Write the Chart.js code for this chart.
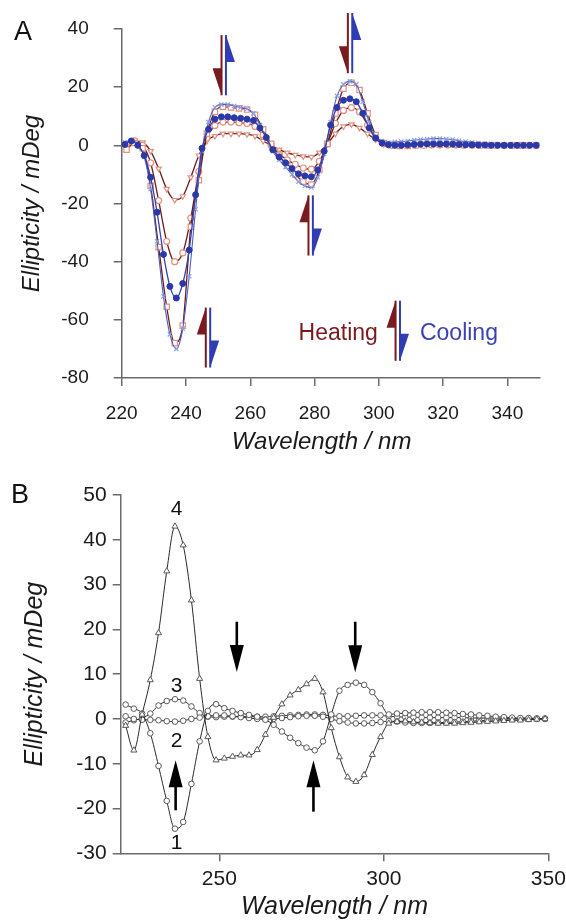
<!DOCTYPE html>
<html>
<head>
<meta charset="utf-8">
<script src="https://cdn.jsdelivr.net/npm/chart.js@4.4.1/dist/chart.umd.min.js"></script>
<style>
  html, body { margin: 0; padding: 0; background: #fff; }
  .panel { position: absolute; left: 0; width: 566px; }
  #wrapA { top: 0; height: 460px; }
  #wrapB { top: 460px; height: 462px; }
</style>
</head>
<body>
<div class="panel" id="wrapA"><canvas id="chartA"></canvas></div>
<div class="panel" id="wrapB"><canvas id="chartB"></canvas></div>
<script>
// wavelength grids (nm)
var wl2 = [221, 223, 225, 227, 229, 231, 233, 235, 237, 239,
  241, 243, 245, 247, 249, 251, 253, 255, 257, 259,
  261, 263, 265, 267, 269, 271, 273, 275, 277, 279,
  281, 283, 285, 287, 289, 291, 293, 295, 297, 299,
  301, 303, 305, 307, 309, 311, 313, 315, 317, 319,
  321, 323, 325, 327, 329, 331, 333, 335, 337, 339,
  341, 343, 345, 347, 349];
var wl25 = [221.5, 224, 226.5, 229, 231.5, 234, 236.5, 239, 241.5, 244,
  246.5, 249, 251.5, 254, 256.5, 259, 261.5, 264, 266.5, 269,
  271.5, 274, 276.5, 279, 281.5, 284, 286.5, 289, 291.5, 294,
  296.5, 299, 301.5, 304, 306.5, 309, 311.5, 314, 316.5, 319,
  321.5, 324, 326.5, 329, 331.5, 334, 336.5, 339, 341.5, 344,
  346.5, 349];

// panel A (mdeg)
var coolDots = [0.3, 1.5, 0.0, -3.5, -11, -23, -37.5, -48.5, -52.5, -47.5,
  -36, -17, -1, 5.5, 9, 9.8, 9.8, 9.5, 9.3, 9,
  8.5, 6, 2.7, -1.5, -4, -6, -8, -9.8, -10.5, -10.8,
  -8.5, -2, 7, 13, 15.5, 16, 15, 11, 6, 2.5,
  0.8, 0.2, 0, 0, 0.2, 0.3, 0.4, 0.5, 0.5, 0.5,
  0.5, 0.4, 0.3, 0.2, 0.2, 0.1, 0.1, 0, 0, 0,
  0, 0, 0, 0, 0];
var coolCross = [1, 1.5, 0.5, -4, -15, -33, -52, -65, -70, -63,
  -45, -22, -2, 8, 13, 14, 14, 13.5, 13, 12.5,
  11, 7, 2.5, -2, -5, -7.5, -10, -12.5, -14, -14.5,
  -11, -3, 8, 17, 21, 22, 21, 15, 8, 3,
  1.5, 1, 1.2, 1.3, 1.5, 1.8, 2, 2.2, 2.3, 2.3,
  2.2, 2, 1.6, 1.3, 1, 0.8, 0.6, 0.5, 0.4, 0.3,
  0.3, 0.2, 0.2, 0.1, 0.1];
var heatSquares = [-1.5, 0.8, -1, -14, -35, -55.5, -68, -62, -28, -12,
  4, 11.5, 13.3, 13, 12.7, 12.3, 10.5, 5.5, 0.5, -3.5,
  -7, -10, -12.5, -13.5, -8.5, 0.5, 11, 19.5, 21.5, 19,
  11, 3.5, 0.8, 0, -0.2, -0.2, 0, 0, 0.2, 0.2,
  0.2, 0.2, 0.1, 0.1, 0, 0, 0, 0, 0, 0,
  0, 0];
var heatCircles = [0.5, 1.5, 0, -6, -19, -33, -40, -37, -25, -9,
  2.5, 6.8, 8, 8, 7.8, 7.5, 6.5, 3.5, 0, -3,
  -5, -6.5, -7.8, -8.2, -5.5, 0.5, 7.5, 12, 13, 11.5,
  7, 2.5, 0.5, 0, 0, 0, 0.1, 0.2, 0.2, 0.2,
  0.2, 0.2, 0.1, 0.1, 0, 0, 0, 0, 0, 0,
  0, 0];
var heatHot = [0.5, 1.5, 1, -2, -8, -15, -18.8, -17.5, -11, -3.5,
  1.5, 3.2, 4, 4, 4, 3.8, 3.2, 1.5, 0, -1.5,
  -2.5, -3.3, -3.8, -4, -2.5, 0.5, 4, 6.5, 7.2, 6,
  4, 2, 0.5, 0, 0, 0, 0, 0.1, 0.1, 0.1,
  0.1, 0.1, 0.1, 0, 0, 0, 0, 0, 0, 0,
  0, 0];

// panel B (mdeg), curves 1-4
var curve1 = [3.2, 2.3, 1.2, -3.2, -10.5, -18.3, -24.5, -23, -14.5, -5,
  1.8, 3.3, 2.4, 1.8, 1.3, 0.9, 0.5, -0.2, -1.3, -2.8,
  -4.2, -5.4, -6.4, -7, -5, 1, 6.3, 7.6, 8.1, 7.6,
  6, 3.5, 1, 1.2, 1.3, 1.4, 1.5, 1.5, 1.5, 1.4,
  1.3, 1.1, 1, 0.8, 0.7, 0.5, 0.4, 0.3, 0.2, 0.2,
  0.1, 0.1];
var curve2 = [0.6, 0, -0.2, -0.2, -0.3, -0.5, -0.6, -0.4, 0, 0.3,
  0.6, 0.8, 0.8, 0.6, 0.4, 0.2, 0, -0.1, 0, 0.2,
  0.4, 0.6, 0.7, 0.7, 0.5, 0, -0.5, -0.8, -1, -1,
  -0.9, -0.7, -0.5, -0.6, -0.8, -0.9, -0.9, -0.9, -0.8, -0.8,
  -0.7, -0.6, -0.5, -0.4, -0.3, -0.2, -0.1, 0, 0, 0,
  0, 0];
var curve3 = [-0.8, -0.3, 0.2, 1.2, 3, 4, 4.4, 4.1, 2.8, 1.3,
  0.5, 0.4, 0.5, 0.5, 0.5, 0.5, 0.5, 0.5, 0.6, 0.7,
  0.8, 0.9, 1, 1, 0.9, 0.7, 0.6, 0.6, 0.7, 0.8,
  0.8, 0.8, 0.6, 0.5, 0.4, 0.4, 0.3, 0.3, 0.3, 0.3,
  0.3, 0.3, 0.2, 0.2, 0.2, 0.2, 0.1, 0.1, 0.1, 0.1,
  0.1, 0];
var curve4 = [-1.5, -7, 1, 8.7, 19.2, 33, 43, 38.8, 26.5, 9,
  -4, -9.2, -8.8, -8.4, -8.1, -8.1, -6.9, -3.5, 0.3, 3.3,
  5.3, 6.5, 7.8, 9, 6, -2, -8.5, -13, -14, -12.5,
  -8, -4, -1, -0.6, -0.5, -0.7, -0.8, -0.9, -1, -1,
  -1, -0.9, -0.8, -0.7, -0.6, -0.5, -0.4, -0.3, -0.3, -0.2,
  -0.1, 0];

// ticks
var ticksA_x = [220, 240, 260, 280, 300, 320, 340];
var ticksA_y = [-80, -60, -40, -20, 0, 20, 40];
var ticksB_x = [250, 300, 350];
var ticksB_y = [-30, -20, -10, 0, 10, 20, 30, 40, 50];

// annotations: [nm, top, bottom, direction of the red harpoon]
var harpoonsA = [
  [251.75, 37.9, 17.2, 'down'],
  [291.05, 45.5, 24.8, 'down'],
  [278.8, -17.2, -37.9, 'up'],
  [246.85, -55.8, -76.4, 'up'],
  [305.9, -53.4, -74.1, 'up']
];
// [nm, tail, tip]
var arrowsB = [
  [236.7, -20.4, -9.2],
  [255.3, 21.7, 10.5],
  [278.6, -20.7, -9.2],
  [291.3, 21.7, 10.4]
];
var curveLabelsB = [['1', 237, -27.7], ['2', 237, -5.0], ['3', 237, 7.4], ['4', 237, 46.9]];

var FAM = "'Liberation Sans', Arial, Helvetica, sans-serif";
var RED = '#7a1a1e';
var BLUE = '#2f3db3';

function pts(xs, ys) {
  return xs.map(function (x, i) { return { x: x, y: ys[i] }; });
}

function tickFilter(list) {
  return function (scale) {
    scale.ticks = list.map(function (v) { return { value: v }; });
  };
}

// fixed box sizes, no extra label padding so the plot area stays put
function fixSize(w, h) {
  return function (s) {
    if (w != null) s.width = w;
    if (h != null) s.height = h;
    s.paddingTop = 0; s.paddingBottom = 0; s.paddingLeft = 0; s.paddingRight = 0;
  };
}

function harpoon(ctx, x, yTop, yBot, dir, side, color) {
  ctx.strokeStyle = color;
  ctx.fillStyle = color;
  ctx.lineWidth = 2;
  ctx.beginPath();
  ctx.moveTo(x, yTop);
  ctx.lineTo(x, yBot);
  ctx.stroke();
  ctx.beginPath();
  if (dir == 'up') {
    ctx.moveTo(x, yTop);
    ctx.lineTo(x, yTop + 27);
    ctx.lineTo(x + side * 9, yTop + 27);
  } else {
    ctx.moveTo(x, yBot);
    ctx.lineTo(x, yBot - 27);
    ctx.lineTo(x + side * 9, yBot - 27);
  }
  ctx.closePath();
  ctx.fill();
}

var annotateA = {
  id: 'annotateA',
  afterDraw: function (chart) {
    var ctx = chart.ctx, xs = chart.scales.x, ys = chart.scales.y;
    ctx.save();
    harpoonsA.forEach(function (h) {
      var x = xs.getPixelForValue(h[0]);
      var t = ys.getPixelForValue(h[1]), b = ys.getPixelForValue(h[2]);
      var other = h[3] == 'up' ? 'down' : 'up';
      harpoon(ctx, x - 2.2, t, b, h[3], -1, RED);
      harpoon(ctx, x + 2.2, t, b, other, 1, BLUE);
    });
    ctx.font = '23px ' + FAM;
    ctx.textBaseline = 'middle';
    ctx.fillStyle = RED;
    ctx.textAlign = 'right';
    ctx.fillText('Heating', xs.getPixelForValue(299.7), ys.getPixelForValue(-64.8));
    ctx.fillStyle = '#3c43b0';
    ctx.textAlign = 'left';
    ctx.fillText('Cooling', xs.getPixelForValue(312.8), ys.getPixelForValue(-64.8));
    // x axis title sits a little left of centre in the original
    ctx.fillStyle = '#1a1a1a';
    ctx.font = 'italic 24px ' + FAM;
    ctx.textAlign = 'center';
    ctx.fillText('Wavelength / nm', (xs.left + xs.right) / 2 - 9, 442);
    ctx.fillStyle = '#111';
    ctx.font = '27px ' + FAM;
    ctx.textAlign = 'left';
    ctx.textBaseline = 'alphabetic';
    ctx.fillText('A', 14, 40);
    ctx.restore();
  }
};

var annotateB = {
  id: 'annotateB',
  afterDraw: function (chart) {
    var ctx = chart.ctx, xs = chart.scales.x, ys = chart.scales.y;
    ctx.save();
    ctx.fillStyle = '#000';
    ctx.strokeStyle = '#000';
    arrowsB.forEach(function (a) {
      var x = xs.getPixelForValue(a[0]);
      var tail = ys.getPixelForValue(a[1]), tip = ys.getPixelForValue(a[2]);
      var d = tip > tail ? 1 : -1;
      ctx.lineWidth = 2.6;
      ctx.beginPath();
      ctx.moveTo(x, tail);
      ctx.lineTo(x, tip - d * 20);
      ctx.stroke();
      ctx.beginPath();
      ctx.moveTo(x, tip);
      ctx.lineTo(x - 7, tip - d * 27);
      ctx.lineTo(x + 7, tip - d * 27);
      ctx.closePath();
      ctx.fill();
    });
    ctx.font = '21px ' + FAM;
    ctx.textAlign = 'center';
    ctx.textBaseline = 'middle';
    ctx.fillStyle = '#111';
    curveLabelsB.forEach(function (l) {
      ctx.fillText(l[0], xs.getPixelForValue(l[1]), ys.getPixelForValue(l[2]));
    });
    ctx.font = '27px ' + FAM;
    ctx.textAlign = 'left';
    ctx.textBaseline = 'alphabetic';
    ctx.fillText('B', 11, 43);
    ctx.restore();
  }
};

function axisStyle(size) {
  return {
    grid: { drawOnChartArea: false, tickLength: 8, color: '#6a6a6a', lineWidth: 1.5 },
    border: { color: '#6a6a6a', width: 1.5 },
    font: { size: size, family: FAM }
  };
}

var redLine = '#6e1b1b';
var pinkEdge = '#e0917f';

var ctxA = document.getElementById('chartA');
var sa = axisStyle(19);
var chartA = new Chart(ctxA, {
  type: 'line',
  data: {
    datasets: [{
      data: pts(wl2, coolDots),
      borderColor: '#3342b0', borderWidth: 1.3,
      pointStyle: 'circle', pointRadius: 3, pointBackgroundColor: '#2a38a8', pointBorderColor: '#2a38a8', pointBorderWidth: 1
    }, {
      data: pts(wl2, coolCross),
      borderColor: '#4a5fc4', borderWidth: 1.1,
      pointStyle: 'crossRot', pointRadius: 3, pointBorderColor: '#8c9fe0', pointBorderWidth: 1.2
    }, {
      data: pts(wl25, heatSquares),
      borderColor: redLine, borderWidth: 1.3,
      pointStyle: 'rect', pointRadius: 3.8, pointBackgroundColor: '#fff', pointBorderColor: pinkEdge, pointBorderWidth: 1.2
    }, {
      data: pts(wl25, heatCircles),
      borderColor: redLine, borderWidth: 1.3,
      pointStyle: 'circle', pointRadius: 3, pointBackgroundColor: '#fff', pointBorderColor: pinkEdge, pointBorderWidth: 1.2
    }, {
      data: pts(wl25, heatHot),
      borderColor: redLine, borderWidth: 1.3,
      pointStyle: 'triangle', rotation: 180, pointRadius: 3, pointBackgroundColor: '#fff', pointBorderColor: pinkEdge, pointBorderWidth: 1.2
    }]
  },
  options: {
    responsive: true,
    maintainAspectRatio: false,
    animation: false,
    cubicInterpolationMode: 'monotone',
    layout: { padding: { left: 0, right: 26.5, top: 29, bottom: 0 } },
    plugins: { legend: { display: false }, tooltip: { enabled: false } },
    scales: {
      x: {
        type: 'linear', min: 220, max: 350,
        afterBuildTicks: tickFilter(ticksA_x),
        ticks: { padding: 16, color: '#1a1a1a', font: sa.font, maxRotation: 0 },
        grid: sa.grid, border: sa.border,
        afterFit: fixSize(null, 82)
      },
      y: {
        type: 'linear', min: -80, max: 40,
        afterBuildTicks: tickFilter(ticksA_y),
        ticks: { padding: 25, color: '#1a1a1a', font: sa.font },
        grid: sa.grid, border: sa.border,
        title: { display: true, text: 'Ellipticity / mDeg', color: '#1a1a1a',
          font: { size: 24, style: 'italic', family: FAM }, padding: { top: 18, bottom: 0 } },
        afterFit: fixSize(121.7, null)
      }
    }
  },
  plugins: [annotateA]
});

var ctxB = document.getElementById('chartB');
var sb = axisStyle(21);
function bSet(values, style, r) {
  return {
    data: pts(wl25, values),
    borderColor: '#2a2a2a', borderWidth: 1,
    pointStyle: style, pointRadius: r, pointBackgroundColor: '#fff', pointBorderColor: '#5a5a5a', pointBorderWidth: 1
  };
}
var chartB = new Chart(ctxB, {
  type: 'line',
  data: {
    datasets: [bSet(curve4, 'triangle', 3.5), bSet(curve1, 'circle', 2.8), bSet(curve2, 'circle', 2.8), bSet(curve3, 'circle', 2.8)]
  },
  options: {
    responsive: true,
    maintainAspectRatio: false,
    animation: false,
    cubicInterpolationMode: 'monotone',
    layout: { padding: { left: 0, right: 17.7, top: 35, bottom: 0 } },
    plugins: { legend: { display: false }, tooltip: { enabled: false } },
    scales: {
      x: {
        type: 'linear', min: 220, max: 350,
        afterBuildTicks: tickFilter(ticksB_x),
        ticks: { padding: 5, color: '#1a1a1a', font: sb.font, maxRotation: 0 },
        grid: sb.grid, border: sb.border,
        title: { display: true, text: 'Wavelength / nm', color: '#1a1a1a',
          font: { size: 25, style: 'italic', family: FAM }, padding: { top: 0, bottom: 0 } },
        afterFit: fixSize(null, 68.7)
      },
      y: {
        type: 'linear', min: -30, max: 50,
        afterBuildTicks: tickFilter(ticksB_y),
        ticks: { padding: 6, color: '#1a1a1a', font: sb.font },
        grid: sb.grid, border: sb.border,
        title: { display: true, text: 'Ellipticity / mDeg', color: '#1a1a1a',
          font: { size: 25, style: 'italic', family: FAM }, padding: { top: 20, bottom: 0 } },
        afterFit: fixSize(120.7, null)
      }
    }
  },
  plugins: [annotateB]
});
</script>
</body>
</html>
